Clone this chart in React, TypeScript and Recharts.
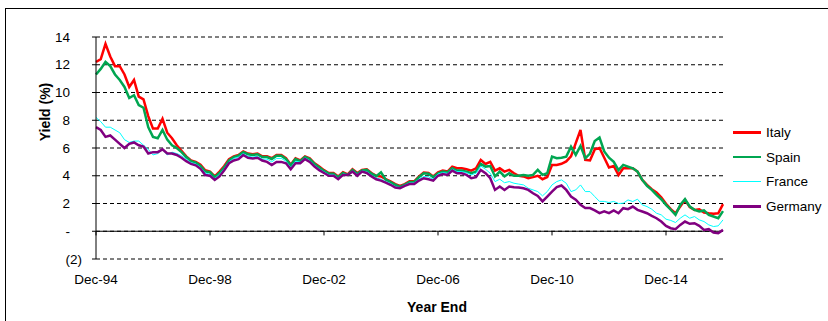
import React from "react";
import {
  LineChart,
  Line,
  XAxis,
  YAxis,
  CartesianGrid,
  ReferenceLine,
  Legend,
} from "recharts";

const FONT = "'Liberation Sans', Arial, sans-serif";

// bimonthly periods, Dec-94 .. Dec-16
const MONTHS = ["Dec", "Feb", "Apr", "Jun", "Aug", "Oct"];
const periods: string[] = [];
for (let i = 0; i <= 132; i++) {
  const yr = (94 + Math.ceil(i / 6)) % 100;
  periods.push(MONTHS[i % 6] + "-" + String(yr).padStart(2, "0"));
}

const tickLabels = ["Dec-94", "Dec-98", "Dec-02", "Dec-06", "Dec-10", "Dec-14"];
const yTicks = [-2, 0, 2, 4, 6, 8, 10, 12, 14];
const seriesNames = ["Italy", "Spain", "France", "Germany"];

const italy = [
  12.2, 12.4, 13.5, 12.6, 11.9, 11.9, 11.3, 10.4, 10.9, 9.7, 9.5, 8.3, 7.4, 7.4, 8.1, 7.1, 6.7, 6.2,
  5.8, 5.4, 5.1, 5.0, 4.8, 4.4, 4.3, 3.95, 4.3, 4.7, 5.2, 5.4, 5.5, 5.75, 5.6, 5.55, 5.6, 5.4,
  5.4, 5.26, 5.5, 5.5, 5.26, 4.8, 5.26, 5.1, 5.4, 5.26, 4.9, 4.66, 4.4, 4.2, 4.2, 3.95, 4.25, 4.1,
  4.47, 4.2, 4.42, 4.47, 4.2, 4.0, 3.95, 3.75, 3.6, 3.4, 3.27, 3.4, 3.6, 3.6, 3.95, 4.23, 4.2, 3.95,
  4.25, 4.37, 4.3, 4.66, 4.54, 4.54, 4.47, 4.37, 4.54, 5.14, 4.85, 5.0, 4.37, 4.54, 4.3, 4.42, 4.18, 4.0,
  3.95, 3.83, 3.9, 4.0, 3.75, 3.9, 4.78, 4.78, 4.86, 5.03, 5.4, 6.35, 7.3, 5.15, 5.1, 5.9, 6.0, 5.3,
  4.6, 4.7, 4.05, 4.54, 4.54, 4.54, 4.3, 3.7, 3.34, 3.03, 2.79, 2.45, 1.98, 1.59, 1.3, 1.78, 2.26, 1.74,
  1.54, 1.59, 1.35, 1.3, 1.26, 1.3, 1.95,
];

const spain = [
  11.3, 11.7, 12.2, 11.9, 11.3, 10.9, 10.4, 9.6, 9.8, 9.1, 8.9, 7.5, 6.8, 6.7, 7.3, 6.6, 6.2, 6.0,
  5.7, 5.35, 5.05, 4.95, 4.7, 4.3, 4.25, 3.9, 4.2, 4.6, 5.1, 5.35, 5.45, 5.7, 5.55, 5.5, 5.55, 5.35,
  5.35, 5.2, 5.45, 5.45, 5.2, 4.75, 5.2, 5.05, 5.35, 5.2, 4.85, 4.6, 4.35, 4.15, 4.15, 3.9, 4.2, 4.05,
  4.42, 4.15, 4.38, 4.42, 4.15, 3.97, 4.25, 3.72, 3.55, 3.35, 3.2, 3.35, 3.55, 3.55, 3.9, 4.18, 4.15, 3.9,
  4.18, 4.3, 4.25, 4.54, 4.37, 4.37, 4.3, 4.18, 4.3, 4.85, 4.66, 4.7, 3.95, 4.3, 3.95, 4.18, 4.0, 4.0,
  4.06, 4.0, 4.06, 4.42, 4.06, 4.18, 5.38, 5.26, 5.3, 5.38, 6.1, 5.5, 6.15, 5.26, 5.6, 6.5, 6.75, 5.75,
  5.3, 5.0, 4.4, 4.78, 4.66, 4.54, 4.3, 3.7, 3.27, 2.98, 2.62, 2.31, 1.9, 1.55, 1.18, 1.9, 2.31, 1.78,
  1.54, 1.42, 1.5, 1.18, 1.06, 0.94, 1.45,
];

const france = [
  8.2, 7.9, 7.5, 7.5, 7.3, 7.1, 6.6, 6.4, 6.5, 6.5, 6.2, 5.9, 5.5, 5.6, 5.9, 5.5, 5.7, 5.6,
  5.45, 5.2, 4.95, 4.85, 4.6, 4.2, 4.1, 3.8, 4.1, 4.5, 5.0, 5.25, 5.35, 5.6, 5.4, 5.35, 5.4, 5.2,
  5.2, 5.0, 5.25, 5.25, 5.05, 4.6, 5.05, 4.98, 5.28, 5.1, 4.75, 4.5, 4.28, 4.08, 4.08, 3.82, 4.12, 4.08,
  4.36, 4.08, 4.34, 4.3, 4.04, 3.84, 3.76, 3.58, 3.44, 3.22, 3.15, 3.32, 3.48, 3.48, 3.76, 3.95, 3.92, 3.75,
  4.13, 4.23, 4.18, 4.47, 4.3, 4.3, 4.23, 4.06, 4.18, 4.7, 4.47, 4.18, 3.58, 3.75, 3.5, 3.58, 3.46, 3.4,
  3.34, 3.1, 2.98, 2.86, 2.55, 2.86, 3.34, 3.58, 3.7, 3.46, 2.86, 2.98, 3.34, 2.86, 2.86, 2.5, 2.15, 2.15,
  2.07, 2.15, 2.0, 2.02, 2.26, 2.14, 2.31, 1.9, 1.78, 1.59, 1.3, 1.18, 0.87, 0.78, 0.63, 0.94, 1.18, 0.94,
  1.06, 0.82, 0.7, 0.46, 0.34, 0.39, 0.82,
];

const germany = [
  7.5, 7.3, 6.8, 6.9, 6.6, 6.3, 6.0, 6.3, 6.4, 6.2, 6.1, 5.6, 5.7, 5.7, 5.9, 5.6, 5.6, 5.5,
  5.3, 5.05, 4.85, 4.75, 4.5, 4.05, 4.0, 3.7, 3.95, 4.4, 4.9, 5.1, 5.2, 5.5, 5.3, 5.25, 5.3, 5.1,
  5.0, 4.78, 5.0, 5.0, 4.9, 4.47, 4.9, 4.9, 5.2, 5.0, 4.66, 4.4, 4.2, 4.0, 4.0, 3.75, 4.06, 4.06,
  4.3, 4.0, 4.3, 4.2, 3.95, 3.75, 3.65, 3.5, 3.35, 3.15, 3.1, 3.27, 3.4, 3.4, 3.65, 3.82, 3.75, 3.65,
  4.0, 4.13, 4.06, 4.37, 4.18, 4.18, 4.06, 3.82, 3.9, 4.42, 4.18, 3.82, 2.98, 3.22, 2.98, 3.22, 3.17, 3.15,
  3.1, 2.98, 2.74, 2.55, 2.15, 2.5, 2.86, 3.18, 3.3, 2.98, 2.5, 2.27, 1.9, 1.67, 1.67, 1.5, 1.31, 1.43,
  1.31, 1.5, 1.3, 1.66, 1.59, 1.78, 1.54, 1.42, 1.3, 1.11, 0.94, 0.7, 0.39, 0.22, 0.15, 0.46, 0.7, 0.54,
  0.58, 0.39, 0.1, 0.15, -0.09, -0.14, 0.1,
];

const data = periods.map((label, i) => ({
  label,
  Italy: italy[i],
  Spain: spain[i],
  France: france[i],
  Germany: germany[i],
}));

const lineWidth: Record<string, number> = { Italy: 2.5, Spain: 2.5, France: 1, Germany: 2.5 };

const XTick = ({ x, y, payload }: any) => (
  <text x={x} y={y + 25} textAnchor="middle" fontFamily={FONT} fontSize={13.5} fill="#000">
    {payload.value}
  </text>
);

const YTick = ({ x, y, payload }: any) => {
  const v = payload.value;
  const txt = v === 0 ? "-" : v < 0 ? `(${-v})` : String(v);
  return (
    <text
      x={v < 0 ? x - 10 : x - 22}
      y={y}
      dy="0.35em"
      textAnchor="end"
      fontFamily={FONT}
      fontSize={13.5}
      fill="#000"
    >
      {txt}
    </text>
  );
};

const YTitle = () => (
  <text
    x={49.5}
    y={112}
    transform="rotate(-90 49.5 112)"
    textAnchor="middle"
    fontFamily={FONT}
    fontSize={14}
    fontWeight="bold"
    fill="#000"
  >
    Yield (%)
  </text>
);

const XTitle = () => (
  <text x={437} y={312} textAnchor="middle" fontFamily={FONT} fontSize={14} fontWeight="bold" fill="#000">
    Year End
  </text>
);

const renderLegend = (props: any) => {
  const items = [...(props.payload || [])].sort(
    (a: any, b: any) => seriesNames.indexOf(a.value) - seriesNames.indexOf(b.value)
  );
  return (
    <div style={{ fontFamily: FONT, fontSize: 13.5, color: "#000" }}>
      {items.map((p: any) => (
        <div key={p.value} style={{ display: "flex", alignItems: "center", height: 24.7 }}>
          <div style={{ width: 28, height: lineWidth[p.value], background: p.color }} />
          <span style={{ marginLeft: 5 }}>{p.value}</span>
        </div>
      ))}
    </div>
  );
};

const App = () => {
  return (
    <div
      style={{
        position: "fixed",
        left: 0,
        top: 0,
        width: 828,
        height: 321,
        overflow: "hidden",
        background: "#fff",
      }}
    >
      <div
        style={{
          position: "absolute",
          left: 5,
          top: 8,
          width: 1000,
          height: 500,
          border: "1px solid #000",
        }}
      />
      <div style={{ position: "absolute", left: 0, top: 0 }}>
        <LineChart
          width={828}
          height={321}
          data={data}
          margin={{ top: 37, right: 105, left: 0, bottom: 37 }}
        >
          <CartesianGrid vertical={false} stroke="#000" strokeDasharray="4 3" />
          <XAxis
            dataKey="label"
            ticks={tickLabels}
            interval={0}
            axisLine={false}
            tickLine={false}
            tickSize={0}
            tickMargin={0}
            height={25}
            tick={<XTick />}
            label={<XTitle />}
          />
          <YAxis
            domain={[-2, 14]}
            ticks={yTicks}
            interval={0}
            width={96}
            axisLine={{ stroke: "#000" }}
            tickLine={{ stroke: "#000" }}
            tickSize={4}
            tickMargin={0}
            tick={<YTick />}
            label={<YTitle />}
          />
          <ReferenceLine y={0} stroke="#000" />
          {tickLabels.map((t) => (
            <ReferenceLine
              key={t}
              segment={[
                { x: t, y: 0 },
                { x: t, y: -0.3 },
              ]}
              stroke="#000"
            />
          ))}
          <Legend
            layout="vertical"
            align="center"
            verticalAlign="middle"
            wrapperStyle={{ left: 733, top: 120, width: 95 }}
            content={renderLegend}
          />
          <Line type="linear" dataKey="Italy" name="Italy" stroke="#FF0000" strokeWidth={2.5} dot={false} isAnimationActive={false} />
          <Line type="linear" dataKey="Spain" name="Spain" stroke="#00A651" strokeWidth={2.5} dot={false} isAnimationActive={false} />
          <Line type="linear" dataKey="France" name="France" stroke="#00FFFF" strokeWidth={1} dot={false} isAnimationActive={false} />
          <Line type="linear" dataKey="Germany" name="Germany" stroke="#800080" strokeWidth={2.5} dot={false} isAnimationActive={false} />
        </LineChart>
      </div>
    </div>
  );
};

export default App;
